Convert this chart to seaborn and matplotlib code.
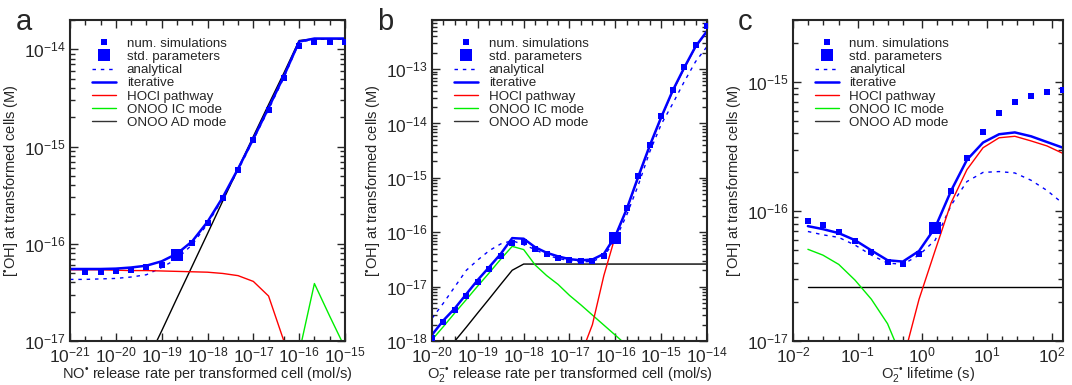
import numpy as np
import matplotlib
matplotlib.use("Agg")
import matplotlib.pyplot as plt
import matplotlib.ticker as mticker
from matplotlib.lines import Line2D
import seaborn as sns

# ---------------- panel a : NO release rate ----------------
a_x = [1e-21, 2.15e-21, 4.64e-21, 1e-20, 2.15e-20, 4.64e-20, 1e-19, 2.15e-19, 4.64e-19, 1e-18,
       2.15e-18, 4.64e-18, 1e-17, 2.15e-17, 4.64e-17, 1e-16, 2.15e-16, 4.64e-16, 1e-15]
a_iter = [5.5e-17, 5.5e-17, 5.5e-17, 5.55e-17, 5.7e-17, 5.95e-17, 6.6e-17, 7.9e-17, 1.06e-16, 1.68e-16,
          3.0e-16, 5.9e-16, 1.2e-15, 2.5e-15, 5.3e-15, 1.2e-14, 1.29e-14, 1.29e-14, 1.29e-14]
a_anal = [4.3e-17, 4.3e-17, 4.35e-17, 4.4e-17, 4.55e-17, 4.8e-17, 5.7e-17, 7.0e-17, 9.8e-17, 1.6e-16,
          2.9e-16, 5.7e-16, 1.17e-15, 2.4e-15, 5.1e-15, 1.18e-14, 1.27e-14, 1.27e-14, 1.27e-14]
a_hocl = [5.4e-17, 5.4e-17, 5.4e-17, 5.35e-17, 5.3e-17, 5.3e-17, 5.25e-17, 5.2e-17, 5.15e-17, 5.1e-17,
          4.95e-17, 4.7e-17, 4.1e-17, 2.9e-17, 1.0e-17, 1.0e-18, np.nan, np.nan, np.nan]
a_ic = [np.nan] * 15 + [7.6e-18, 3.9e-17, 1.8e-17, 8.5e-18]
a_ad = [np.nan] * 5 + [6.0e-18, 1.27e-17, 2.75e-17, 5.9e-17, 1.27e-16,
                       2.75e-16, 5.9e-16, 1.27e-15, 2.7e-15, 5.7e-15, 1.23e-14, 1.28e-14, 1.28e-14, 1.28e-14]
a_sim_x = [2.15e-21, 4.64e-21, 1e-20, 2.15e-20, 4.64e-20, 1e-19, 4.64e-19, 1e-18, 2.15e-18,
           4.64e-18, 1e-17, 2.15e-17, 4.64e-17, 1e-16, 2.15e-16, 4.64e-16, 1e-15]
a_sim_y = [5.1e-17, 5.1e-17, 5.2e-17, 5.4e-17, 5.7e-17, 6.1e-17, 1.03e-16, 1.63e-16, 2.93e-16,
           5.7e-16, 1.17e-15, 2.4e-15, 5.07e-15, 1.07e-14, 1.18e-14, 1.18e-14, 1.18e-14]
a_std = ([2.15e-19], [7.6e-17])

# ---------------- panel b : O2- release rate ----------------
b_x = [1e-20, 1.78e-20, 3.16e-20, 5.62e-20, 1e-19, 1.78e-19, 3.16e-19, 5.62e-19, 1e-18,
       1.78e-18, 3.16e-18, 5.62e-18, 1e-17, 1.78e-17, 3.16e-17, 5.62e-17, 1e-16,
       1.78e-16, 3.16e-16, 5.62e-16, 1e-15, 1.78e-15, 3.16e-15, 5.62e-15, 1e-14]
b_iter = [1.3e-18, 2.4e-18, 4.0e-18, 7.3e-18, 1.33e-17, 2.3e-17, 4.0e-17, 7.8e-17, 7.6e-17,
          5.3e-17, 4.2e-17, 3.6e-17, 3.2e-17, 3.05e-17, 3.15e-17, 4.0e-17, 8.5e-17,
          2.7e-16, 1.05e-15, 3.9e-15, 1.3e-14, 4.0e-14, 1.05e-13, 2.6e-13, 5.0e-13]
b_anal = [2.6e-18, 5.0e-18, 1.0e-17, 2.0e-17, 3.1e-17, 4.6e-17, 6.1e-17, 7.0e-17, 5.9e-17,
          4.8e-17, 3.8e-17, 3.3e-17, 3.0e-17, 2.85e-17, 2.9e-17, 3.6e-17, 7.3e-17,
          2.1e-16, 7.3e-16, 3.0e-15, 9.6e-15, 2.3e-14, 5.8e-14, 1.37e-13, 2.6e-13]
b_hocl = [np.nan] * 12 + [1.0e-19, 5.6e-19, 2.0e-18, 1.6e-17, 8.5e-17,
                          2.65e-16, 1.0e-15, 3.8e-15, 1.27e-14, 3.9e-14, 1.02e-13, 2.55e-13, 4.9e-13]
b_ic = [1.05e-18, 1.85e-18, 3.3e-18, 5.8e-18, 1.03e-17, 1.8e-17, 3.2e-17, 5.5e-17, 4.8e-17,
        2.5e-17, 1.6e-17, 1.1e-17, 6.9e-18, 4.6e-18, 3.0e-18, 1.96e-18, 1.28e-18,
        8.3e-19, np.nan, np.nan, np.nan, np.nan, np.nan, np.nan, np.nan]
b_ad = [3.0e-19, 5.5e-19, 1.0e-18, 1.8e-18, 3.3e-18, 6.0e-18, 1.1e-17, 2.0e-17, 2.6e-17,
        2.6e-17, 2.6e-17, 2.6e-17, 2.6e-17, 2.6e-17, 2.6e-17, 2.6e-17, 2.6e-17,
        2.6e-17, 2.6e-17, 2.6e-17, 2.6e-17, 2.6e-17, 2.6e-17, 2.6e-17, 2.6e-17]
b_sim_x = b_x[:16] + b_x[17:]
b_sim_y = [1.15e-18, 2.2e-18, 3.7e-18, 6.7e-18, 1.2e-17, 2.1e-17, 3.7e-17, 6.4e-17, 6.6e-17,
           4.9e-17, 3.9e-17, 3.4e-17, 3.05e-17, 2.9e-17, 2.95e-17, 3.6e-17,
           2.8e-16, 1.07e-15, 4.1e-15, 1.35e-14, 4.1e-14, 1.08e-13, 2.8e-13, 6.2e-13]
b_std = ([1e-16], [7.7e-17])

# ---------------- panel c : O2- lifetime ----------------
c_x = [0.017, 0.029, 0.051, 0.091, 0.163, 0.29, 0.5, 0.89, 1.58,
       2.8, 4.9, 8.7, 15.4, 27, 48, 85, 150]
c_iter = [7.7e-17, 7.3e-17, 6.8e-17, 6.0e-17, 5.0e-17, 4.2e-17, 4.1e-17, 4.95e-17, 7.5e-17,
          1.45e-16, 2.5e-16, 3.4e-16, 3.94e-16, 4.07e-16, 3.8e-16, 3.43e-16, 3.1e-16]
c_anal = [7.0e-17, 6.6e-17, 6.3e-17, 5.5e-17, 4.6e-17, 4.0e-17, 3.9e-17, 4.6e-17, 6.0e-17,
          1.12e-16, 1.7e-16, 2.0e-16, 2.03e-16, 1.98e-16, 1.74e-16, 1.45e-16, 1.15e-16]
c_hocl = [np.nan] * 5 + [2.0e-18, 7.0e-18, 2.1e-17, 5.0e-17,
                         1.17e-16, 2.1e-16, 3.1e-16, 3.7e-16, 3.8e-16, 3.5e-16, 3.2e-16, 2.8e-16]
c_ic = [5.1e-17, 4.6e-17, 3.9e-17, 2.95e-17, 2.1e-17, 1.36e-17, 7.1e-18] + [np.nan] * 10
c_ad = [2.6e-17] * 17
c_sim_x = c_x[:8] + c_x[9:]
c_sim_y = [8.4e-17, 7.8e-17, 6.9e-17, 5.9e-17, 4.9e-17, 4.1e-17, 3.9e-17, 4.7e-17,
           1.45e-16, 2.6e-16, 4.1e-16, 5.7e-16, 7.0e-16, 7.8e-16, 8.3e-16, 8.7e-16]
c_std = ([1.58], [7.5e-17])

labels = ["num. simulations", "std. parameters", "analytical", "iterative",
          "HOCl pathway", "ONOO IC mode", "ONOO AD mode"]

sns.set_style("ticks")
plt.rcParams['font.family'] = ['Liberation Sans', 'DejaVu Sans']
plt.rcParams['mathtext.fontset'] = 'custom'
plt.rcParams['mathtext.rm'] = 'Liberation Sans'
plt.rcParams['mathtext.it'] = 'Liberation Sans:italic'
plt.rcParams['font.size'] = 10

BLUE, RED, GREEN, BLACK = '#0000ff', '#ff0000', '#00ee00', '#000000'
DASH = (0, (2.5, 3.5))

fig = plt.figure(figsize=(10.72, 3.85), dpi=100)
W, H = 1072, 385
ax_a = fig.add_axes([70 / W, 44 / H, 275 / W, 321 / H])
ax_b = fig.add_axes([432 / W, 44 / H, 275 / W, 321 / H])
ax_c = fig.add_axes([793 / W, 44 / H, 270 / W, 321 / H])

panels = [
    (ax_a, a_x, a_iter, a_anal, a_hocl, a_ic, a_ad, a_sim_x, a_sim_y, a_std,
     (1e-21, 1e-15), (1e-17, 2e-14), (10 ** (1 / 3), 10 ** (2 / 3)),
     "NO$^{•}$ release rate per transformed cell (mol/s)", "a", 16),
    (ax_b, b_x, b_iter, b_anal, b_hocl, b_ic, b_ad, b_sim_x, b_sim_y, b_std,
     (1e-20, 1e-14), (1e-18, 8e-13), (10 ** 0.25, 10 ** 0.5, 10 ** 0.75),
     "O$_2^{-•}$ release rate per transformed cell (mol/s)", "b", 377),
    (ax_c, c_x, c_iter, c_anal, c_hocl, c_ic, c_ad, c_sim_x, c_sim_y, c_std,
     (1e-2, 150), (1e-17, 3e-15), (1.7, 2.9, 5.1),
     "O$_2^{-•}$ lifetime (s)", "c", 738),
]

for (ax, x, it, an, ho, ic, ad, sx, sy, std, xlim, ylim, xsubs, xlabel, letter, lx) in panels:
    ax.set_xscale('log')
    ax.set_yscale('log')
    sns.lineplot(x=x, y=an, ax=ax, color=BLUE, lw=1.0, linestyle=DASH, estimator=None, sort=False)
    sns.lineplot(x=x, y=ad, ax=ax, color=BLACK, lw=1.0, estimator=None, sort=False)
    sns.lineplot(x=x, y=ic, ax=ax, color=GREEN, lw=1.0, estimator=None, sort=False)
    sns.lineplot(x=x, y=ho, ax=ax, color=RED, lw=1.0, estimator=None, sort=False)
    sns.lineplot(x=x, y=it, ax=ax, color=BLUE, lw=1.8, estimator=None, sort=False)
    sns.scatterplot(x=sx, y=sy, ax=ax, marker='s', s=22, color=BLUE, linewidth=0, zorder=5)
    sns.scatterplot(x=std[0], y=std[1], ax=ax, marker='s', s=85, color=BLUE, linewidth=0, zorder=6)

    ax.set_xlim(*xlim)
    ax.set_ylim(*ylim)
    ax.xaxis.set_major_locator(mticker.LogLocator(base=10, numticks=20))
    ax.xaxis.set_minor_locator(mticker.LogLocator(base=10, subs=xsubs, numticks=20))
    ax.xaxis.set_minor_formatter(mticker.NullFormatter())
    ax.yaxis.set_major_locator(mticker.LogLocator(base=10, numticks=20))
    ax.yaxis.set_minor_locator(mticker.LogLocator(base=10, subs=np.arange(2, 10), numticks=20))
    ax.yaxis.set_minor_formatter(mticker.NullFormatter())
    ax.tick_params(which='both', direction='in', top=True, right=True, labelsize=12.5, width=1.0)
    ax.tick_params(which='major', length=6, pad=3)
    ax.tick_params(which='minor', length=3.5)
    for sp in ax.spines.values():
        sp.set_linewidth(1.5)
    ax.set_xlabel(xlabel, fontsize=10.5, labelpad=0)
    ax.set_ylabel("[$^{•}$OH] at transformed cells (M)", fontsize=10.5, labelpad=3)
    fig.text(lx / W, 1 - 22 / H, letter, fontsize=21, ha='left', va='center')

    handles = [
        Line2D([], [], ls='none', marker='s', ms=4.5, mew=0, color=BLUE),
        Line2D([], [], ls='none', marker='s', ms=9, mew=0, color=BLUE),
        Line2D([], [], color=BLUE, lw=1.0, linestyle=DASH),
        Line2D([], [], color=BLUE, lw=1.8),
        Line2D([], [], color=RED, lw=1.0),
        Line2D([], [], color=GREEN, lw=1.0),
        Line2D([], [], color='#333333', lw=1.0),
    ]
    ax.legend(handles, labels, loc='upper left', bbox_to_anchor=(0.08, 0.945),
              frameon=False, fontsize=9.6, borderpad=0, borderaxespad=0,
              labelspacing=0.06, handlelength=1.8, handletextpad=0.8)

fig.savefig("out.png", dpi=100)
